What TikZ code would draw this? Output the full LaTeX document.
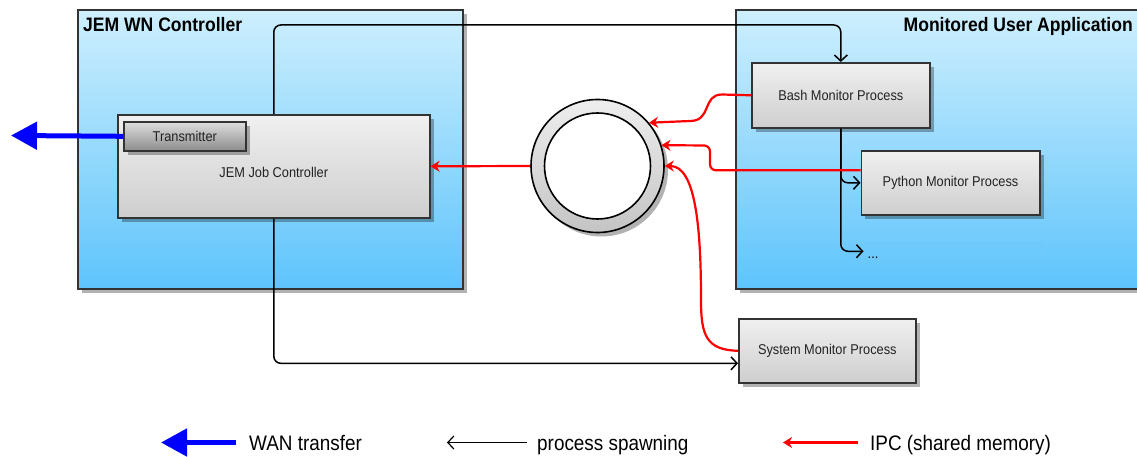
\documentclass[tikz,border=0pt]{standalone}
\usepackage{fontspec}
\setmainfont{Liberation Sans}[FakeStretch=0.9]
\usetikzlibrary{arrows.meta,shadows,calc}
\definecolor{blueTop}{RGB}{206,239,253}
\definecolor{blueBot}{RGB}{94,196,252}
\definecolor{boxTop}{RGB}{240,240,240}
\definecolor{boxBot}{RGB}{206,206,206}
\definecolor{txTop}{RGB}{222,222,222}
\definecolor{txBot}{RGB}{140,140,140}
\definecolor{ringTop}{RGB}{238,238,238}
\definecolor{ringBot}{RGB}{196,196,196}
\definecolor{edgec}{RGB}{51,51,51}
\definecolor{txtc}{RGB}{34,34,34}
\definecolor{ipcred}{RGB}{255,0,0}
\definecolor{wanblue}{RGB}{0,0,255}
\definecolor{dotsedge}{RGB}{110,200,245}
\newcommand{\nodefont}{\fontsize{14.2}{16}\selectfont}
\newcommand{\titlefont}{\bfseries\fontsize{19.5}{22}\selectfont}
\newcommand{\legendfont}{\fontsize{21}{24}\selectfont}
\tikzset{
  shadowed/.style={drop shadow={shadow xshift=4pt,shadow yshift=-4pt,opacity=0.3,fill=black}},
  container/.style={draw=edgec,line width=1.6pt,top color=blueTop,bottom color=blueBot,shadowed,anchor=north west,inner sep=0pt},
  procbox/.style={draw=edgec,line width=1.6pt,top color=boxTop,bottom color=boxBot,shadowed,anchor=north west,inner sep=0pt,font=\nodefont,text=txtc},
  txbox/.style={draw=edgec,line width=1.6pt,top color=txTop,bottom color=txBot,shadowed,anchor=north west,inner sep=0pt,font=\nodefont,text=txtc},
  dotsbox/.style={draw=dotsedge,line width=0.5pt,anchor=north west,inner sep=0pt},
  ringnode/.style={circle,draw=black,line width=1.6pt,minimum size=133pt,inner sep=0pt,top color=ringTop,bottom color=ringBot,shadowed,
    path picture={\draw[line width=1.6pt,fill=white] (path picture bounding box.center) circle (53pt);}},
  spawn/.style={draw=black,line width=1.5pt,rounded corners=7pt,-{Straight Barb[length=6pt,width=13pt]}},
  ipc/.style={draw=ipcred,line width=2.2pt,-{Stealth[length=9pt,width=11pt]}},
  wan/.style={draw=wanblue,line width=5pt,-{Triangle[length=26pt,width=27pt]}},
  title/.style={font=\titlefont,text=black,inner sep=0pt},
  legendtext/.style={font=\legendfont,text=black,inner sep=0pt,anchor=base west}
}
\begin{document}
\begin{tikzpicture}[x=1pt,y=-1pt]
\useasboundingbox (0,0) rectangle (1137,457);
\clip (0,0) rectangle (1137,457);
\fill[white] (0,0) rectangle (1137,457);

% containers
\node[container,minimum width=385pt,minimum height=279pt] (wn) at (77,9) {};
\node[container,minimum width=410pt,minimum height=279pt] (mua) at (735,9) {};
\node[title,anchor=base west] (wnTitle) at (83,32) {JEM WN Controller};
\node[title,anchor=base east] (muaTitle) at (1133,32) {Monitored User Application};

% boxes
\node[procbox,minimum width=312pt,minimum height=103pt,
  label={[font=\nodefont,text=txtc,yshift=-6.5pt]center:JEM Job Controller}] (jc) at (117,114) {};
\node[txbox,minimum width=122pt,minimum height=29pt] (tx) at (123,121) {Transmitter};
\node[procbox,minimum width=178pt,minimum height=65pt] (bash) at (751,62) {Bash Monitor Process};
\node[procbox,minimum width=178.5pt,minimum height=64pt] (py) at (860.5,150) {Python Monitor Process};
\node[procbox,minimum width=177pt,minimum height=64pt] (sys) at (738,318) {System Monitor Process};
\node[dotsbox,minimum width=176pt,minimum height=16pt] (dots) at (863.5,243) {};
\node[font=\nodefont,text=black,inner sep=0pt,anchor=base west] (dotslabel) at ([xshift=4pt,yshift=-7pt]dots.west) {...};

\node[ringnode] (ring) at (597.5,166) {};

% spawn connectors
\coordinate (topbend) at (500,25);
\draw[spawn] (jc.north) |- (topbend) -| (bash.north);
\draw[spawn] (bash.south) |- (py.west);
\draw[spawn] (bash.south) |- (dots.west);
\draw[spawn] (jc.south) |- ([yshift=-12.5pt]sys.west);

% IPC connectors
\coordinate (bashb1) at (722,94.5);
\coordinate (bashc1) at (702,94.5);
\coordinate (bashc2) at (712,121);
\coordinate (bashb2) at (690,121);
\draw[ipc] (ring.west) -- (jc.east);
\draw[ipc] (bash.west) -- (bashb1) .. controls (bashc1) and (bashc2) .. (bashb2) -- (ring.40);
\coordinate (pybend) at (710,145.5);
\draw[ipc,rounded corners=6pt] ([yshift=12.5pt]py.west) -| (pybend) -- (ring.18);
\coordinate (sysb1) at (701,300);
\draw[ipc] (sys.west) .. controls (706,350) and (701,335) .. (sysb1) .. controls (701,230) and (696,166) .. (ring.east);

% WAN
\coordinate (wanend) at (11,135.5);
\draw[wan] (tx.west) -- (wanend);

% legend
\coordinate (lw1) at (236,442.5);
\coordinate (lw0) at (161,442.5);
\draw[wan] (lw1) -- (lw0);
\node[legendtext] (lwt) at (249,450) {WAN transfer};
\coordinate (ls1) at (527,442.5);
\coordinate (ls0) at (447,442.5);
\draw[spawn,line width=1.2pt] (ls1) -- (ls0);
\node[legendtext] (lst) at (537,450) {process spawning};
\coordinate (li1) at (858,442.5);
\coordinate (li0) at (783,442.5);
\draw[ipc] (li1) -- (li0);
\node[legendtext] (lit) at (870,450) {IPC (shared memory)};
\end{tikzpicture}
\end{document}
